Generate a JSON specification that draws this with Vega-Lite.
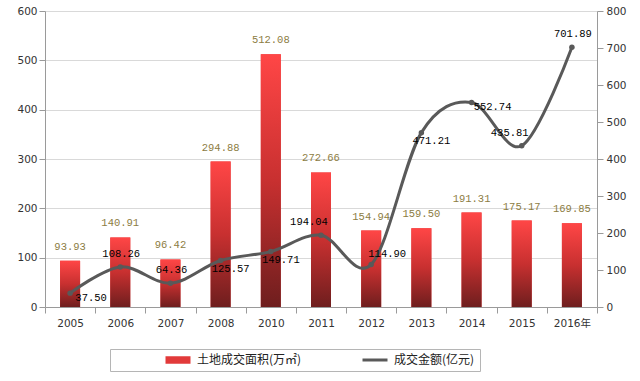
{
  "$schema": "https://vega.github.io/schema/vega-lite/v6.json",
  "width": 552,
  "height": 296,
  "autosize": {"type": "none"},
  "padding": {"left": 45, "top": 11, "right": 43, "bottom": 74},
  "background": "white",
  "config": {
    "view": {"stroke": null},
    "axis": {
      "labelFont": "DejaVu Sans, Noto Sans CJK SC",
      "labelFontSize": 10.5,
      "labelColor": "#333333",
      "domainColor": "#9a9a9a",
      "tickColor": "#9a9a9a"
    }
  },
  "data": {
    "values": [
      {"year": "2005", "area": 93.93, "amount": 37.50},
      {"year": "2006", "area": 140.91, "amount": 108.26},
      {"year": "2007", "area": 96.42, "amount": 64.36},
      {"year": "2008", "area": 294.88, "amount": 125.57},
      {"year": "2010", "area": 512.08, "amount": 149.71},
      {"year": "2011", "area": 272.66, "amount": 194.04},
      {"year": "2012", "area": 154.94, "amount": 114.90},
      {"year": "2013", "area": 159.50, "amount": 471.21},
      {"year": "2014", "area": 191.31, "amount": 552.74},
      {"year": "2015", "area": 175.17, "amount": 435.81},
      {"year": "2016年", "area": 169.85, "amount": 701.89}
    ]
  },
  "encoding": {
    "x": {
      "field": "year",
      "type": "nominal",
      "sort": null,
      "scale": {"paddingInner": 0, "paddingOuter": 0},
      "axis": {"labelAngle": 0, "tickBand": "extent", "tickSize": 6, "labelPadding": 5, "title": null, "grid": false}
    }
  },
  "layer": [
    {
      "encoding": {
        "y": {
          "field": "area",
          "type": "quantitative",
          "scale": {"domain": [0, 600], "nice": false},
          "axis": {
            "orient": "left",
            "values": [0, 100, 200, 300, 400, 500, 600],
            "grid": true,
            "gridColor": "#d9d9d9",
            "tickSize": 6,
            "labelPadding": 2,
            "title": null
          }
        }
      },
      "layer": [
        {
          "mark": {"type": "bar", "width": 20},
          "encoding": {
            "color": {
              "datum": "土地成交面积(万㎡)",
              "scale": {
                "domain": ["土地成交面积(万㎡)", "成交金额(亿元)"],
                "range": ["#e23a3a", "#595959"]
              },
              "legend": {
                "title": null,
                "orient": "none",
                "legendX": 65,
                "legendY": 338,
                "direction": "horizontal",
                "columns": 2,
                "gridAlign": "all",
                "padding": 5,
                "strokeColor": "#b5b5b5",
                "symbolOffset": 57,
                "columnPadding": 10,
                "labelFont": "Noto Sans CJK SC",
                "labelFontSize": 12,
                "labelColor": "#222222",
                "labelOffset": 13,
                "labelLimit": 300,
                "encode": {
                  "symbols": {
                    "update": {
                      "shape": {"signal": "datum.value === '成交金额(亿元)' ? 'stroke' : 'M-1,-0.3H1V0.3H-1Z'"},
                      "size": {"value": 625},
                      "strokeWidth": {"signal": "datum.value === '成交金额(亿元)' ? 3 : 0"},
                      "stroke": {"signal": "datum.value === '成交金额(亿元)' ? '#595959' : 'transparent'"},
                      "fill": {"signal": "datum.value === '成交金额(亿元)' ? '#595959' : '#e23a3a'"},
                      "opacity": {"value": 1}
                    }
                  }
                }
              }
            }
          }
        },
        {
          "mark": {
            "type": "bar",
            "width": 20,
            "fill": {
              "gradient": "linear",
              "x1": 0, "y1": 0, "x2": 0, "y2": 1,
              "stops": [
                {"offset": 0, "color": "#ff4646"},
                {"offset": 0.5, "color": "#c83030"},
                {"offset": 1, "color": "#6e1e1e"}
              ]
            }
          }
        },
        {
          "mark": {
            "type": "text",
            "dy": -14,
            "baseline": "middle",
            "font": "Liberation Mono",
            "fontSize": 10.5,
            "fill": "#8c7c42"
          },
          "encoding": {"text": {"field": "area", "type": "quantitative", "format": ".2f"}}
        }
      ]
    },
    {
      "encoding": {
        "y": {
          "field": "amount",
          "type": "quantitative",
          "scale": {"domain": [0, 800], "nice": false},
          "axis": {
            "orient": "right",
            "values": [0, 100, 200, 300, 400, 500, 600, 700, 800],
            "grid": false,
            "tickSize": 6,
            "labelPadding": 3,
            "title": null
          }
        }
      },
      "layer": [
        {
          "mark": {
            "type": "line",
            "interpolate": "cardinal",
            "strokeWidth": 3,
            "point": {"filled": true, "size": 30}
          },
          "encoding": {"color": {"datum": "成交金额(亿元)"}}
        },
        {
          "transform": [{"filter": {"field": "year", "oneOf": ["2006", "2007", "2016年"]}}],
          "mark": {"type": "text", "dx": 1, "dy": -13, "baseline": "middle", "font": "Liberation Mono", "fontSize": 10.5, "fill": "#000000"},
          "encoding": {"text": {"field": "amount", "type": "quantitative", "format": ".2f"}}
        },
        {
          "transform": [{"filter": {"field": "year", "oneOf": ["2011", "2015"]}}],
          "mark": {"type": "text", "dx": -12, "dy": -13, "baseline": "middle", "font": "Liberation Mono", "fontSize": 10.5, "fill": "#000000"},
          "encoding": {"text": {"field": "amount", "type": "quantitative", "format": ".2f"}}
        },
        {
          "transform": [{"filter": {"field": "year", "oneOf": ["2005", "2014"]}}],
          "mark": {"type": "text", "dx": 21, "dy": 5, "baseline": "middle", "font": "Liberation Mono", "fontSize": 10.5, "fill": "#000000"},
          "encoding": {"text": {"field": "amount", "type": "quantitative", "format": ".2f"}}
        },
        {
          "transform": [{"filter": {"field": "year", "oneOf": ["2008", "2010", "2013"]}}],
          "mark": {"type": "text", "dx": 10, "dy": 8, "baseline": "middle", "font": "Liberation Mono", "fontSize": 10.5, "fill": "#000000"},
          "encoding": {"text": {"field": "amount", "type": "quantitative", "format": ".2f"}}
        },
        {
          "transform": [{"filter": {"field": "year", "oneOf": ["2012"]}}],
          "mark": {"type": "text", "dx": 16, "dy": -10, "baseline": "middle", "font": "Liberation Mono", "fontSize": 10.5, "fill": "#000000"},
          "encoding": {"text": {"field": "amount", "type": "quantitative", "format": ".2f"}}
        }
      ]
    }
  ],
  "resolve": {"scale": {"y": "independent"}}
}
